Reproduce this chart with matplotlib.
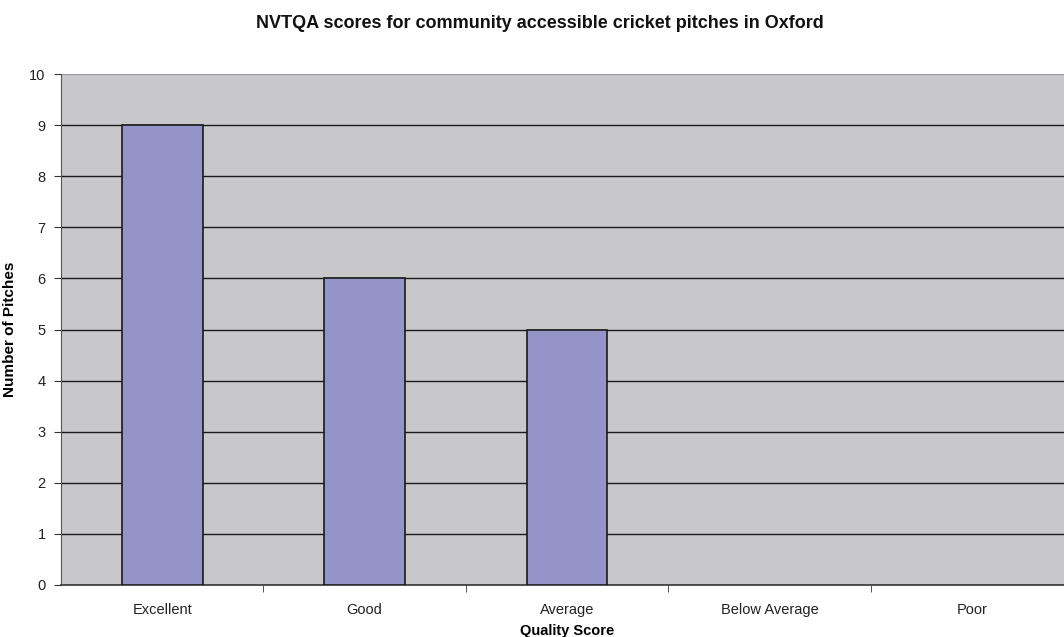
import matplotlib.pyplot as plt
import numpy as np

categories = ['Excellent', 'Good', 'Average', 'Below Average', 'Poor']
pitches = [9, 6, 5, 0, 0]

plt.rcParams['font.family'] = ['Liberation Sans', 'DejaVu Sans']

fig = plt.figure(figsize=(10.64, 6.37), dpi=100)
# plot area runs past the right edge of the image, as in the original
ax = fig.add_axes([61 / 1064, 1 - 585 / 637, 1012 / 1064, 511 / 637])
ax.set_facecolor('#c8c8ca')

x = np.arange(len(categories))
edges = ['#1a1a1a' if v > 0 else 'none' for v in pitches]
ax.bar(x, pitches, 0.4, color='#9494c8', edgecolor=edges, linewidth=1.2, zorder=3)

ax.set_xlim(-0.5, len(categories) - 0.5)
ax.set_ylim(0, 10)
ax.set_yticks(range(0, 11))
for v in range(1, 10):
    ax.axhline(v, color='#1a1a1a', linewidth=1, zorder=1)
ax.axhline(10, color='#999999', linewidth=1.5, zorder=1)

ax.set_xticks(x)
ax.set_xticklabels(categories, fontsize=10.5, color='#222222')
ax.set_xticks(np.arange(0.5, len(categories) - 0.5, 1), minor=True)
ax.tick_params(axis='x', which='major', length=0, pad=13)
ax.tick_params(axis='x', which='minor', length=5, color='#333333', direction='out')
ax.tick_params(axis='y', length=5, color='#333333', labelsize=10.5, labelcolor='#222222', pad=6)

for s in ['top', 'right']:
    ax.spines[s].set_visible(False)
ax.spines['left'].set_color('#555555')
ax.spines['bottom'].set_color('#333333')
ax.spines['bottom'].set_linewidth(1.2)

ax.set_xlabel('Quality Score', fontsize=10.5, fontweight='bold', labelpad=5)
ax.set_ylabel('Number of Pitches', fontsize=11, fontweight='bold', labelpad=9)
fig.text(540 / 1064, 1 - 23 / 637, 'NVTQA scores for community accessible cricket pitches in Oxford',
         ha='center', va='center', fontsize=13, fontweight='bold', color='#111111')

fig.savefig('out.png', dpi=100)
